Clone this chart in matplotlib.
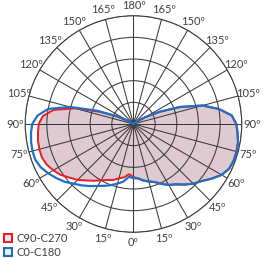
import numpy as np
import matplotlib
matplotlib.use("Agg")
from matplotlib import pyplot as plt
from matplotlib.patches import Patch

# gamma angles (deg from nadir), relative intensity
angles = [0, 5, 10, 15, 20, 25, 30, 35, 40, 45, 50, 55, 60, 65, 70, 75, 80, 85, 90,
          95, 100, 105, 110, 115, 120, 125, 130, 135, 140, 145, 150, 155, 160, 165, 170, 175, 180]

# C0-C180: right half = C0, left half = C180
c0_right = [0.50, 0.505, 0.53, 0.55, 0.57, 0.61, 0.65, 0.68, 0.73, 0.78, 0.82, 0.88, 0.94, 0.975, 0.985,
            0.985, 0.98, 0.965, 0.95, 0.91, 0.80, 0.66, 0.46, 0.27, 0.13, 0.04, 0, 0, 0, 0, 0, 0, 0, 0, 0, 0, 0]
c0_left = [0.50, 0.49, 0.54, 0.57, 0.60, 0.63, 0.66, 0.70, 0.74, 0.78, 0.83, 0.87, 0.91, 0.945, 0.965,
           0.965, 0.96, 0.95, 0.935, 0.89, 0.80, 0.61, 0.36, 0.17, 0.06, 0.02, 0, 0, 0, 0, 0, 0, 0, 0, 0, 0, 0]

# C90-C270
c90_right = c0_right
c90_left = [0.49, 0.465, 0.50, 0.52, 0.55, 0.57, 0.60, 0.64, 0.68, 0.73, 0.77, 0.82, 0.855, 0.885, 0.90,
            0.90, 0.895, 0.885, 0.875, 0.84, 0.75, 0.56, 0.33, 0.16, 0.06, 0.02, 0, 0, 0, 0, 0, 0, 0, 0, 0, 0, 0]

labels = ["C90-C270", "C0-C180"]
colors = ["#ee1c24", "#1f6fc4"]
fill_color = "#dfcad1"
grid_color = "#3a3a3a"

plt.rcParams['font.family'] = ['Lato', 'DejaVu Sans']


def full_curve(left, right):
    a = np.array(angles, dtype=float)
    th = np.concatenate([-a[::-1], a[1:]])
    r = np.concatenate([np.array(left)[::-1], np.array(right)[1:]])
    return np.deg2rad(th), r


fig = plt.figure(figsize=(2.75, 2.58), dpi=100)
ax = fig.add_axes([0.0916, 0.0996, 0.7876, 0.8395], projection='polar')
ax.set_theta_zero_location('S')
ax.set_theta_direction(1)
ax.set_ylim(0, 1)

th90, r90 = full_curve(c90_left, c90_right)
th0, r0 = full_curve(c0_left, c0_right)

ax.fill(th90, r90, color=fill_color, zorder=1)
ax.plot(th90, r90, color=colors[0], lw=1.4, zorder=3)
ax.plot(th0, r0, color=colors[1], lw=1.6, zorder=4)

tick_deg = list(range(0, 360, 15))
tick_lab = [f"{d if d <= 180 else 360 - d}º" for d in tick_deg]
ax.set_thetagrids(tick_deg, tick_lab, fontsize=8, color="#404040")
ax.tick_params(axis='x', pad=-3)
ax.set_rgrids([0.2, 0.4, 0.6, 0.8, 1.0], labels=[])
ax.grid(True, color=grid_color, lw=0.75)
ax.spines['polar'].set_color(grid_color)
ax.spines['polar'].set_linewidth(0.75)
for gl in ax.xaxis.get_gridlines() + ax.yaxis.get_gridlines():
    gl.set_zorder(2)

handles = [Patch(facecolor="#fbe8ea", edgecolor=colors[0], lw=1.5),
           Patch(facecolor="#e3eefa", edgecolor=colors[1], lw=1.5)]
fig.legend(handles, labels, loc='lower left', bbox_to_anchor=(-0.012, -0.03), frameon=False,
           fontsize=8, handlelength=0.7, handleheight=0.7, handletextpad=0.35,
           labelspacing=0.3, borderpad=0.2, labelcolor="#404040")

fig.savefig("out.png", dpi=100)
